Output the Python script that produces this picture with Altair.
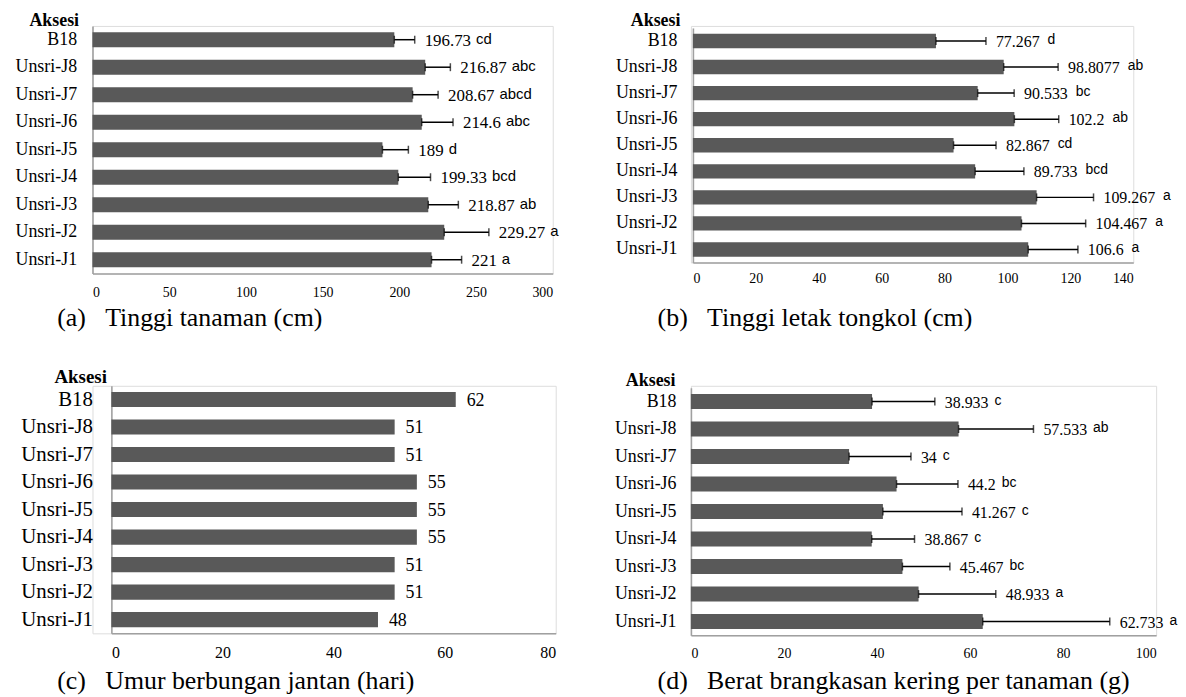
import altair as alt
import pandas as pd

accessions = ["B18", "Unsri-J8", "Unsri-J7", "Unsri-J6", "Unsri-J5",
              "Unsri-J4", "Unsri-J3", "Unsri-J2", "Unsri-J1"]

# (a) Tinggi tanaman (cm)
tinggi = [196.73, 216.87, 208.67, 214.6, 189, 199.33, 218.87, 229.27, 221]
tinggi_err = [13.3, 16.4, 16.6, 20.4, 16.9, 21.0, 19.6, 29.1, 19.6]
tinggi_sig = ["cd", "abc", "abcd", "abc", "d", "bcd", "ab", "a", "a"]

# (b) Tinggi letak tongkol (cm)
letak = [77.267, 98.8077, 90.533, 102.2, 82.867, 89.733, 109.267, 104.467, 106.6]
letak_err = [15.9, 17.3, 11.6, 14.1, 13.5, 15.5, 18.1, 20.4, 15.8]
letak_sig = ["d", "ab", "bc", "ab", "cd", "bcd", "a", "a", "a"]

# (c) Umur berbungan jantan (hari)
umur = [62, 51, 51, 55, 55, 55, 51, 51, 48]

# (d) Berat brangkasan kering per tanaman (g)
berat = [38.933, 57.533, 34, 44.2, 41.267, 38.867, 45.467, 48.933, 62.733]
berat_err = [13.5, 16.1, 13.3, 13.2, 17.0, 9.2, 10.2, 16.6, 27.3]
berat_sig = ["c", "ab", "c", "bc", "c", "c", "bc", "a", "a"]

ticks_a = [0, 50, 100, 150, 200, 250, 300]
ticks_b = [0, 20, 40, 60, 80, 100, 120, 140]
ticks_c = [0, 20, 40, 60, 80]
ticks_d = [0, 20, 40, 60, 80, 100]

SERIF = "Liberation Serif"
SANS = "Liberation Sans"
BAR = "#595959"
AXIS = "#a0a0a0"
NB = "\u00a0"
ANCHOR = dict(color="white", opacity=0, strokeOpacity=0, strokeWidth=1)


def text_width(s, fs):
    return sum(0.25 * fs if ch == "." else 0.5 * fs for ch in s)


def panel(values, errs, sigs, dom_max, ticks, caption,
          x0, plot_w, y0, plot_h,
          lab_fs, lab_pad, title_x, title_y, tick_fs, tick_pad,
          cap_x, cap_y, val_fs, sig_fs, sig_gap, L, T, R, B, val_dx=10,
          title_fs=None):
    errs = errs if errs is not None else [0] * len(values)
    lbls = [f"{v:g}" for v in values]
    hi = [v + e for v, e in zip(values, errs)]
    ppu = plot_w / dom_max
    lx = [h + (val_dx + text_width(s, val_fs) + sig_gap) / ppu
          for h, s in zip(hi, lbls)] if sigs else hi
    df = pd.DataFrame({"aks": accessions, "v": values, "hi": hi,
                       "lbl": lbls, "sig": sigs if sigs else [""] * 9, "lx": lx})
    W = x0 + plot_w
    H = y0 + plot_h

    xaxis = alt.Axis(values=ticks, grid=False, ticks=False, tickSize=0,
                     domainColor=AXIS, domainWidth=1.6,
                     labelFont=SERIF, labelFontSize=tick_fs, labelColor="black",
                     labelBaseline="middle", labelPadding=tick_pad,
                     title=caption, titleFont=SERIF, titleFontSize=26,
                     titleFontWeight="normal", titleColor="black",
                     titleAlign="left", titleBaseline="middle",
                     titleX=cap_x, titleY=cap_y)
    yaxis = alt.Axis(grid=False, ticks=False, tickSize=0, offset=-x0,
                     domainColor=AXIS, domainWidth=1.6,
                     labelFont=SERIF, labelFontSize=lab_fs, labelColor="black",
                     labelPadding=lab_pad, labelLimit=300,
                     title="Aksesi", titleFont=SERIF,
                     titleFontSize=title_fs or lab_fs,
                     titleFontWeight="bold", titleColor="black", titleAngle=0,
                     titleAlign="right", titleBaseline="middle",
                     titleX=title_x, titleY=title_y)
    xs = alt.Scale(domain=[0, dom_max], nice=False, zero=True, range=[x0, W])
    ys = alt.Scale(domain=accessions, paddingInner=0.45, paddingOuter=0.225,
                   range=[y0, H])

    def X(f):
        return alt.X(f"{f}:Q", scale=xs, axis=xaxis)

    Y = alt.Y("aks:N", sort=accessions, scale=ys, axis=yaxis)

    base = alt.Chart(df)
    layers = [base.mark_bar(color=BAR).encode(x=X("v"), y=Y)]
    if any(e > 0 for e in errs):
        layers += [
            base.mark_rule(color="black", strokeWidth=1.5).encode(x=X("v"), x2="hi:Q", y=Y),
            base.mark_tick(color="black", thickness=1.5, size=8).encode(x=X("v"), y=Y),
            base.mark_tick(color="black", thickness=1.5, size=8).encode(x=X("hi"), y=Y),
        ]
    layers.append(base.mark_text(align="left", baseline="middle", dx=val_dx, dy=1,
                                 font=SERIF, fontSize=val_fs, color="black")
                  .encode(x=X("hi"), y=Y, text="lbl:N"))
    if sigs:
        layers.append(base.mark_text(align="left", baseline="middle", dy=-1,
                                     font=SANS, fontSize=sig_fs, color="black")
                      .encode(x=X("lx"), y=Y, text="sig:N"))
    # invisible layout anchors fixing each panel's extent in the grid
    layers.append(base.mark_rule(**ANCHOR)
                  .encode(x=alt.value(-L), x2=alt.value(R), y=alt.value(-T)))
    layers.append(base.mark_rule(**ANCHOR)
                  .encode(x=alt.value(-L), x2=alt.value(-L + 20), y=alt.value(B)))
    return alt.layer(*layers).properties(width=W, height=H)


# grid origins: column 0 at page x 94, column 1 at 694; row 0 at page y 25, row 1 at 385
pa = panel(tinggi, tinggi_err, tinggi_sig, 300, ticks_a,
           f"(a){NB*3}Tinggi tanaman (cm)",
           x0=0, plot_w=463, y0=0, plot_h=249,
           lab_fs=18, lab_pad=16, title_x=-14, title_y=-5, tick_fs=14, tick_pad=19,
           cap_x=-36, cap_y=44, val_fs=17, sig_fs=15, sig_gap=5,
           L=84, T=15, R=506, B=325)
pb = panel(letak, letak_err, letak_sig, 140, ticks_b,
           f"(b){NB*3}Tinggi letak tongkol (cm)",
           x0=2, plot_w=443, y0=2, plot_h=236,
           lab_fs=18, lab_pad=16, title_x=-13, title_y=-5, tick_fs=14, tick_pad=16,
           cap_x=-34, cap_y=55, val_fs=16, sig_fs=14, sig_gap=8,
           L=94, T=15, R=480, B=325)
pc = panel(umur, None, None, 80, ticks_c,
           f"(c){NB*3}Umur berbungan jantan (hari)",
           x0=19, plot_w=447, y0=0, plot_h=249,
           lab_fs=21, lab_pad=19, title_x=-5, title_y=-9, tick_fs=16, tick_pad=19,
           cap_x=-36, cap_y=48, val_fs=18, sig_fs=14, sig_gap=0,
           L=84, T=35, R=506, B=300, val_dx=11, title_fs=19)
pd_ = panel(berat, berat_err, berat_sig, 100, ticks_d,
            f"(d){NB*3}Berat brangkasan kering per tanaman (g)",
            x0=0, plot_w=468, y0=2, plot_h=249,
            lab_fs=18, lab_pad=15, title_x=-16, title_y=-5, tick_fs=14, tick_pad=18,
            cap_x=-34, cap_y=46, val_fs=16, sig_fs=14, sig_gap=6,
            L=94, T=35, R=480, B=300)

chart = alt.concat(
    pa, pb, pc, pd_, columns=2, spacing=0
).properties(
    padding={"left": 0, "top": 0, "right": 0, "bottom": 0}
).configure_view(stroke=None).configure(background="white")

chart.save("out.html", embed_options={"renderer": "svg", "actions": False})
